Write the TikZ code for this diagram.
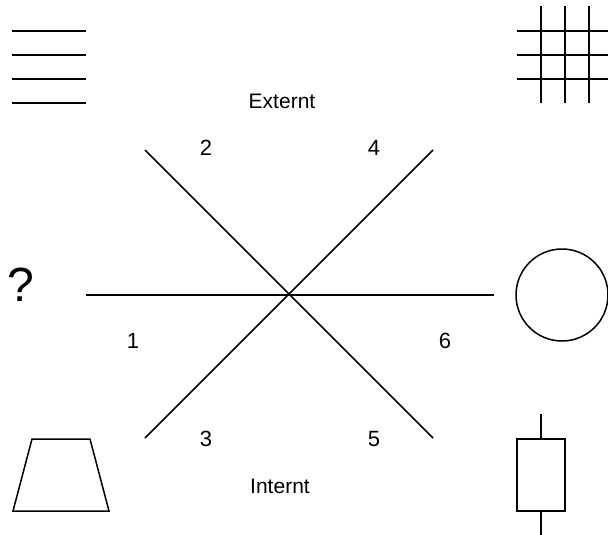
\documentclass[tikz,border=0pt]{standalone}
\usepackage{fontspec}
\setmainfont{Liberation Sans}
\begin{document}
\begin{tikzpicture}[x=1pt,y=-1pt,
  ln/.style={line width=1.5pt},
  lbl/.style={inner sep=0pt,font=\fontsize{21}{25}\selectfont},
  num/.style={inner sep=0pt,font=\fontsize{22}{26}\selectfont},
  bigq/.style={inner sep=0pt,font=\fontsize{48}{56}\selectfont}]
\useasboundingbox (0,0) rectangle (608,535);
% centre lines
\coordinate (c) at (289,294);
\coordinate (h1) at (86,295);
\coordinate (h2) at (494,295);
\coordinate (d1a) at (145,150);
\coordinate (d1b) at (433,438);
\coordinate (d2a) at (433,150);
\coordinate (d2b) at (145,438);
\draw[ln] (h1) -- (h2);
\draw[ln] (d1a) -- (d1b);
\draw[ln] (d2a) -- (d2b);
% labels
\node[lbl] (ext) at (282,101) {Externt};
\node[lbl] (int) at (280,486) {Internt};
\node[num] (n2) at (206,148) {2};
\node[num] (n4) at (374,148) {4};
\node[num] (n1) at (133,341) {1};
\node[num] (n6) at (445,341) {6};
\node[num] (n3) at (206,439) {3};
\node[num] (n5) at (374,439) {5};
\node[bigq] (q) at (21,285) {?};
% top-left lines
\foreach \y in {31,55,79,103} \draw[ln] (12,\y) -- (86,\y);
% top-right grid
\foreach \y in {31,55,79} \draw[ln] (517,\y) -- (608,\y);
\foreach \x in {541,565,589} \draw[ln] (\x,6) -- (\x,103);
% circle
\draw[ln] (562,295) circle (46);
% trapezoid
\draw[ln] (32,439) -- (90,439) -- (109,511) -- (13,511) -- cycle;
% rectangle with leads
\draw[ln] (517,439) rectangle (565,511);
\draw[ln] (541,414) -- (541,439);
\draw[ln] (541,511) -- (541,535);
\end{tikzpicture}
\end{document}
